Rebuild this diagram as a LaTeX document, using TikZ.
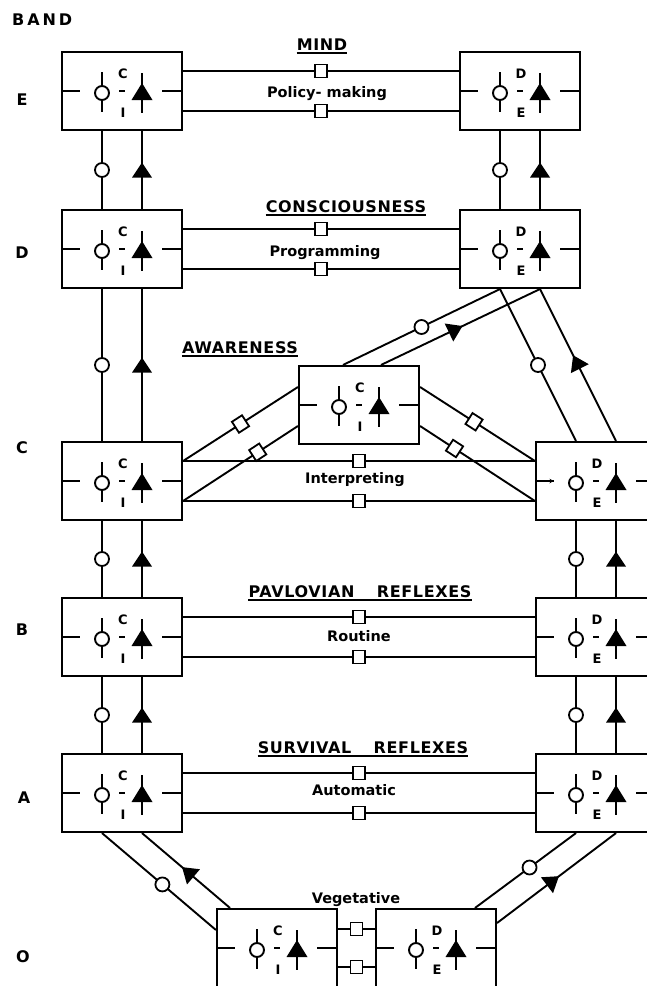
\documentclass[tikz,border=0pt]{standalone}
\usepackage{fontspec}
\setmainfont{DejaVu Sans}
\newfontfamily\titlefont{DejaVu Sans Bold}[LetterSpace=4]
\newfontfamily\bandfont{DejaVu Sans Bold}[LetterSpace=18]
\newfontfamily\letterfont{DejaVu Sans Bold}
\usetikzlibrary{arrows.meta,calc}

\tikzset{
  box/.style={draw, line width=2.1pt, minimum width=120pt, minimum height=78pt, inner sep=0pt},
  ln/.style={line width=1.9pt},
  ring/.style={circle, draw, line width=1.8pt, fill=white, minimum size=14pt, inner sep=0pt},
  sq/.style={rectangle, draw, line width=1.8pt, fill=white, minimum width=12pt, minimum height=13pt, inner sep=0pt},
  letter/.style={font=\letterfont\fontsize{13}{14}\selectfont, inner sep=0pt},
  bandlab/.style={font=\bandfont\fontsize{16}{18}\selectfont, inner sep=0pt, anchor=base},
  title/.style={font=\titlefont\fontsize{16}{18}\selectfont, inner sep=0pt, anchor=base},
  work/.style={font=\bfseries\fontsize{14.5}{16}\selectfont, inner sep=0pt, anchor=base},
  pics/tri/.style={code={\fill (7.5pt,0pt) -- (-7.5pt,10pt) -- (-7.5pt,-10pt) -- cycle;}},
}

\newcommand\unitbox[5]{%
  \node[box] (#1) at (#2,#3) {};
  \begin{scope}[shift={(#2,#3)}]
    \draw[ln] (-60,0) -- (-42,0);
    \draw[ln] (40,0) -- (60,0);
    \draw[ln] (-3,0) -- (3,0);
    \draw[ln] (-20,-19) -- (-20,21);
    \draw[ln, fill=white] (-20,2) circle (7pt);
    \draw[ln] (20,-18) -- (20,22);
    \fill (20,-8) -- (30.5,9) -- (9.5,9) -- cycle;
    \node[letter] at (1,-17) {#4};
    \node[letter] at (1,22) {#5};
  \end{scope}
}

\newcommand\ultitle[4]{%
  \node[title] (#1) at (#2,#3) {#4};
  \draw[line width=1.3pt] ([yshift=-3pt]#1.base west) -- ([yshift=-3pt]#1.base east);
}

\begin{document}
\begin{tikzpicture}[x=1pt, y=-1pt]
\useasboundingbox (0,0) rectangle (647,986);
\clip (0,0) rectangle (647,986);

% band labels
\node[bandlab, anchor=base west] (band) at (12,25) {BAND};
\node[bandlab] (bE) at (22,105) {E};
\node[bandlab] (bD) at (22,258) {D};
\node[bandlab] (bC) at (22,453) {C};
\node[bandlab] (bB) at (22,635) {B};
\node[bandlab] (bA) at (24,803) {A};
\node[bandlab] (bO) at (23,962) {O};

% units
\unitbox{LE}{122}{91}{C}{I}
\unitbox{RE}{520}{91}{D}{E}
\unitbox{LD}{122}{249}{C}{I}
\unitbox{RD}{520}{249}{D}{E}
\unitbox{AW}{359}{405}{C}{I}
\unitbox{LC}{122}{481}{C}{I}
\unitbox{RC}{596}{481}{D}{E}
\unitbox{LB}{122}{637}{C}{I}
\unitbox{RB}{596}{637}{D}{E}
\unitbox{LA}{122}{793}{C}{I}
\unitbox{RA}{596}{793}{D}{E}
\unitbox{VL}{277}{948}{C}{I}
\unitbox{VR}{436}{948}{D}{E}

% small arrow tip on the RC input dash
\draw[ln, -{Stealth[length=4.5pt,width=4.5pt]}] ([xshift=1pt]RC.west) -- ([xshift=19pt]RC.west);

% titles
\ultitle{tE}{322}{50}{MIND}
\ultitle{tD}{346}{212}{CONSCIOUSNESS}
\ultitle{tC}{240}{353}{AWARENESS}
\ultitle{tB}{360}{597}{PAVLOVIAN\hspace{1.4em}REFLEXES}
\ultitle{tA}{363}{753}{SURVIVAL\hspace{1.4em}REFLEXES}

\node[work] (wE) at (327,97) {Policy- making};
\node[work] (wD) at (325,256) {Programming};
\node[work] (wC) at (355,483) {Interpreting};
\node[work] (wB) at (359,641) {Routine};
\node[work] (wA) at (354,795) {Automatic};
\node[work] (wO) at (356,903) {Vegetative};

% horizontal links
\foreach \l/\r in {LE/RE, LD/RD, LC/RC, LB/RB, LA/RA}{
  \draw[ln] ([yshift=20pt]\l.east) -- node[sq]{} ([yshift=20pt]\r.west);
  \draw[ln] ([yshift=-20pt]\l.east) -- node[sq]{} ([yshift=-20pt]\r.west);
}
\draw[ln] ([yshift=19pt]VL.east) -- node[sq]{} ([yshift=19pt]VR.west);
\draw[ln] ([yshift=-19pt]VL.east) -- node[sq]{} ([yshift=-19pt]VR.west);

% vertical links
\foreach \lo/\up in {LD/LE, LC/LD, LB/LC, LA/LB, RD/RE, RB/RC, RA/RB}{
  \draw[ln] ([xshift=-20pt]\lo.north) -- node[ring]{} ([xshift=-20pt]\up.south);
  \draw[ln] ([xshift=20pt]\lo.north) -- pic[pos=.5, sloped, allow upside down]{tri} ([xshift=20pt]\up.south);
}

% awareness links
\draw[ln] ([yshift=20pt]LC.east) -- node[sq, sloped, pos=.5]{} ([yshift=18pt]AW.west);
\draw[ln] ([yshift=-20pt]LC.east) -- node[sq, sloped, pos=.65]{} ([yshift=-21pt]AW.west);
\draw[ln] ([yshift=18pt]AW.east) -- node[sq, sloped, pos=.47]{} ([yshift=20pt]RC.west);
\draw[ln] ([yshift=-21pt]AW.east) -- node[sq, sloped, pos=.3]{} ([yshift=-20pt]RC.west);
\draw[ln] ([xshift=-16pt]AW.north) -- node[ring, pos=.5]{} ([xshift=-20pt]RD.south);
\draw[ln] ([xshift=22pt]AW.north) -- pic[pos=.47, sloped, allow upside down]{tri} ([xshift=20pt]RD.south);
\draw[ln] ([xshift=-20pt]RC.north) -- node[ring, pos=.5]{} ([xshift=-20pt]RD.south);
\draw[ln] ([xshift=20pt]RC.north) -- pic[pos=.52, sloped, allow upside down]{tri} ([xshift=20pt]RD.south);

% vegetative links
\draw[ln] ([yshift=18pt]VL.west) -- node[ring, pos=.47]{} ([xshift=-20pt]LA.south);
\draw[ln] ([xshift=-47pt]VL.north) -- pic[pos=.48, sloped, allow upside down]{tri} ([xshift=20pt]LA.south);
\draw[ln] ([xshift=39pt]VR.north) -- node[ring, pos=.54]{} ([xshift=-20pt]RA.south);
\draw[ln] ([yshift=25pt]VR.east) -- pic[pos=.47, sloped, allow upside down]{tri} ([xshift=20pt]RA.south);
\end{tikzpicture}
\end{document}
